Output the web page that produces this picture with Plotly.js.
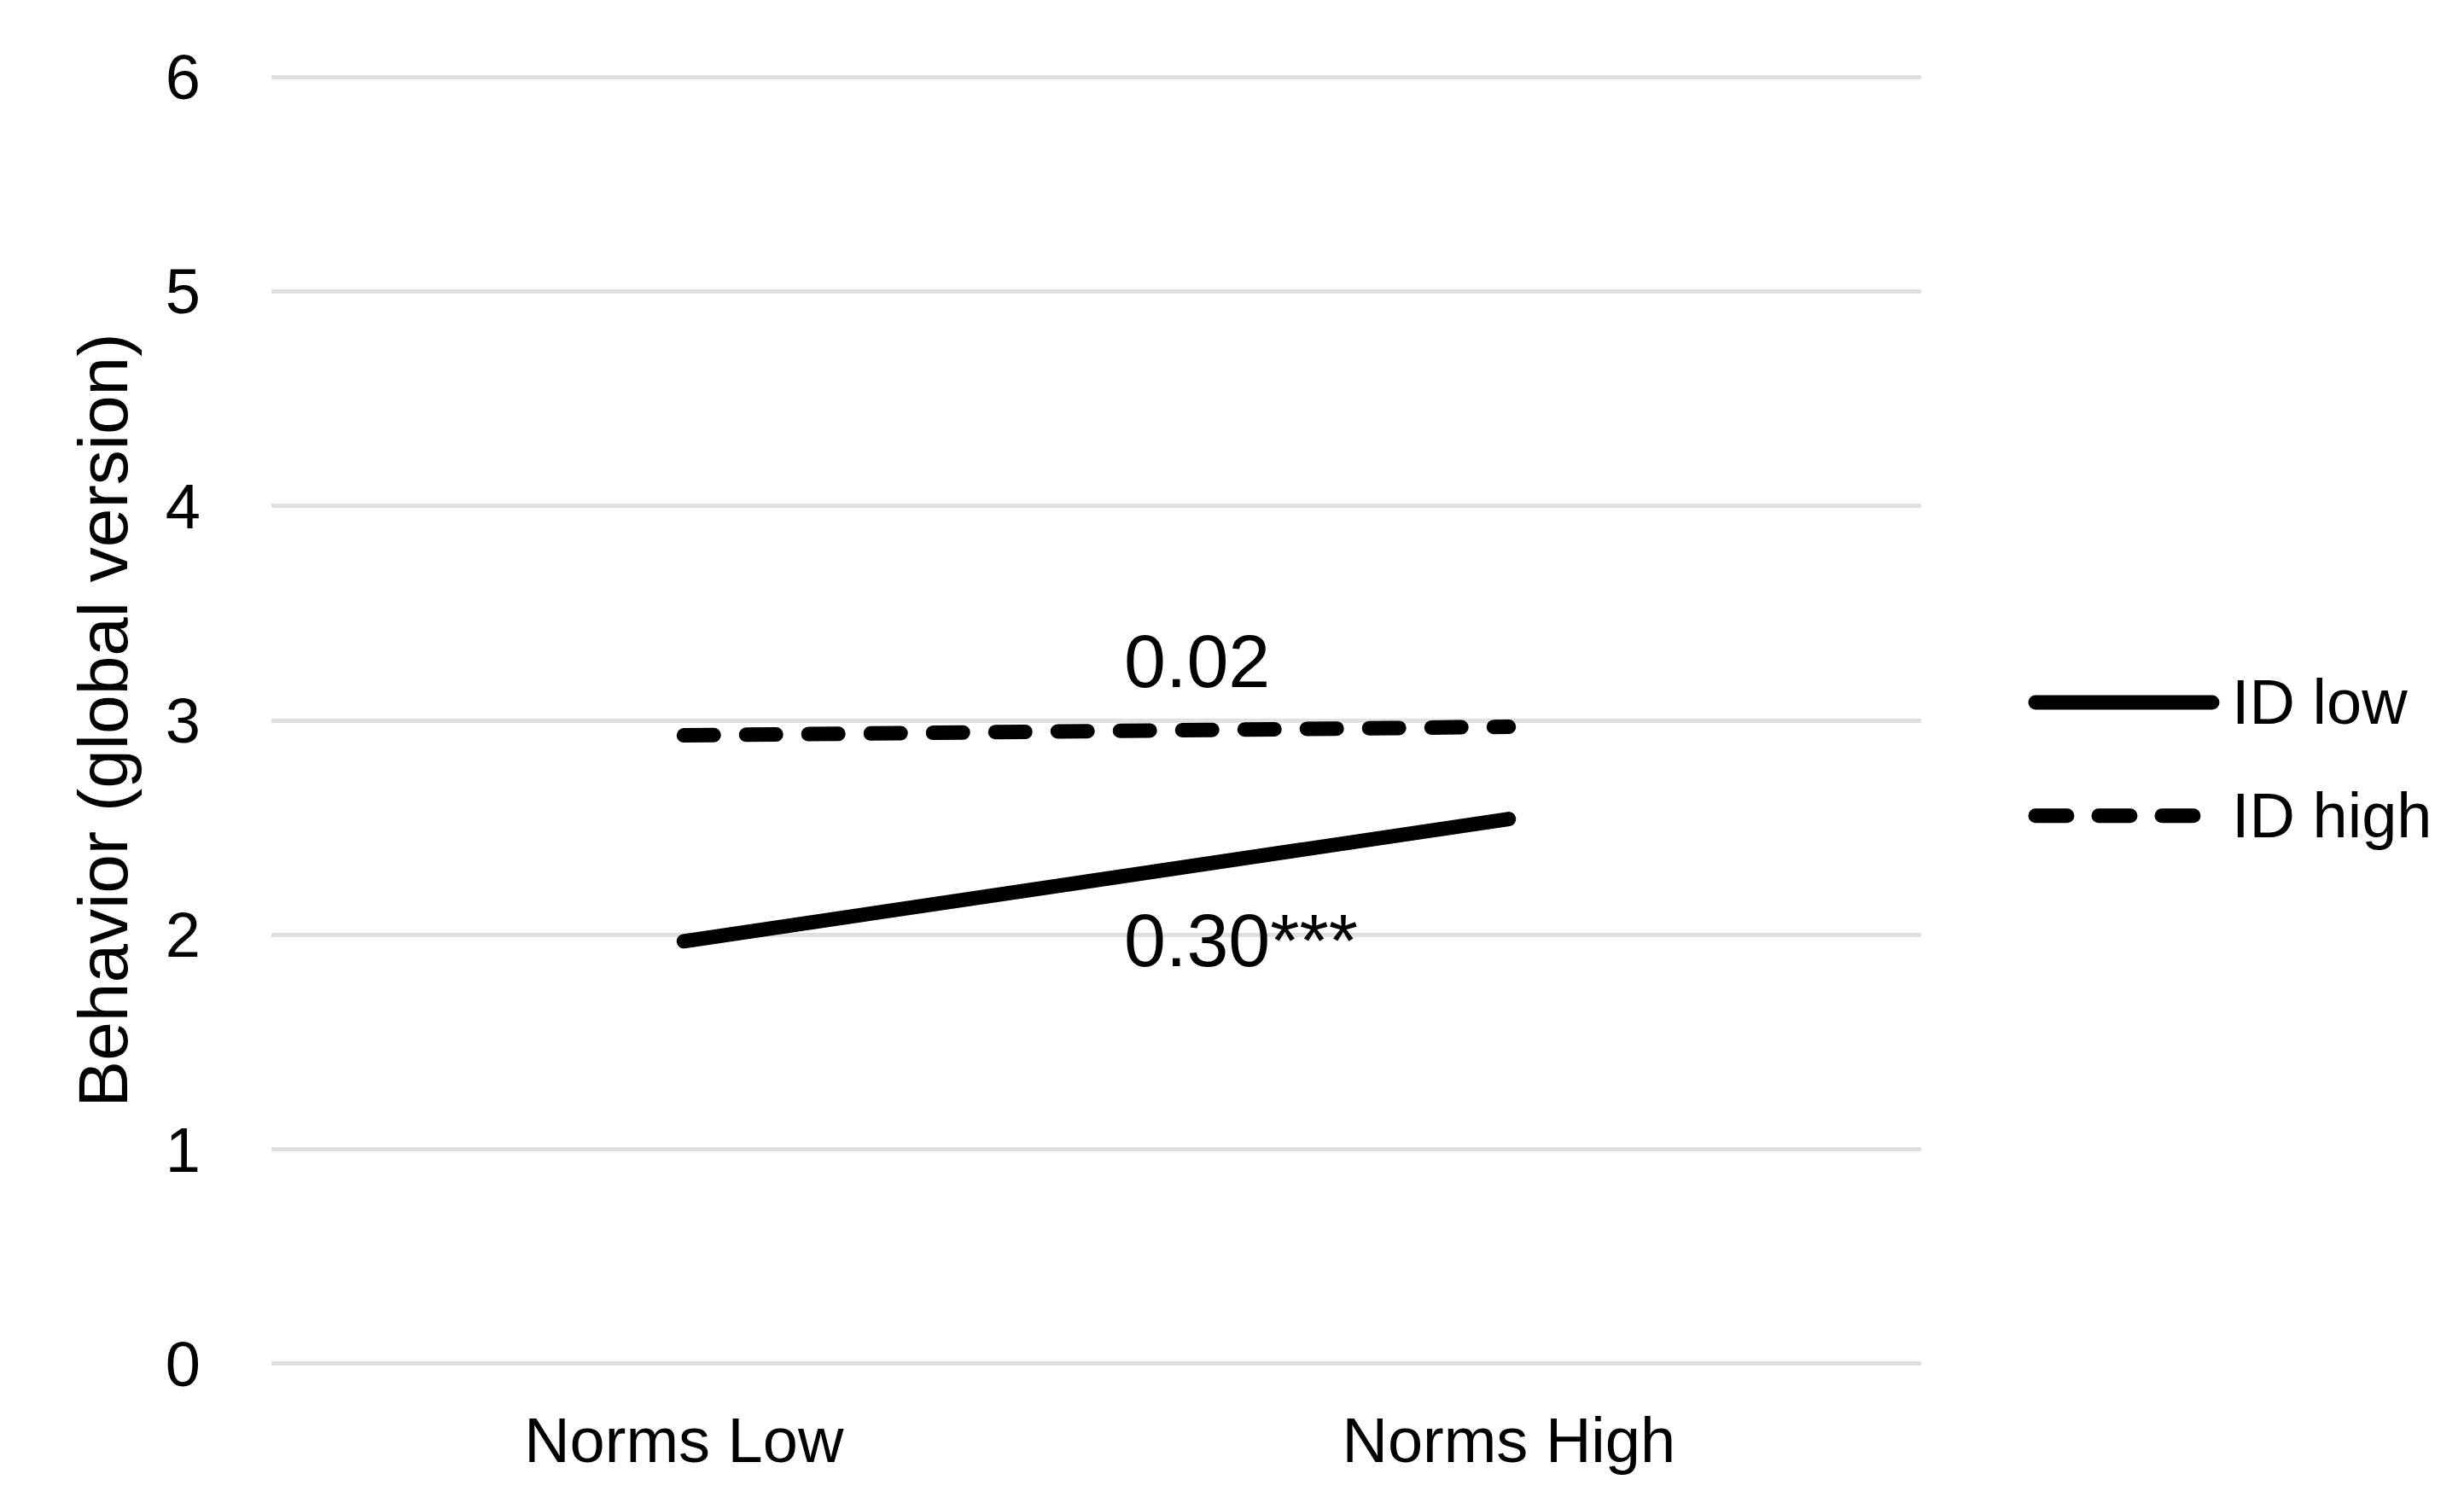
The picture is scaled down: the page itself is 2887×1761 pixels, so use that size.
<!DOCTYPE html>
<html>
<head>
<meta charset="utf-8">
<script src="https://cdn.plot.ly/plotly-3.0.1.min.js"></script>
<style>
html, body { margin: 0; padding: 0; background: #fff; }
#chart { width: 2887px; height: 1761px; }
.scatterlayer path.js-line { stroke-linecap: round; }
.shapelayer path { stroke-linecap: round; }
</style>
</head>
<body>
<div id="chart"></div>
<script>
// Data
const categories = ["Norms Low", "Norms High"];
const seriesNames = ["ID low", "ID high"];
const idLow = [1.97, 2.54];
const idHigh = [2.93, 2.97];
const slopeLabels = ["0.30***", "0.02"];
const yTicks = [0, 1, 2, 3, 4, 5, 6];

const FONT = "Arial, 'Liberation Sans', sans-serif";

const traces = [
  {
    x: categories, y: idLow, name: seriesNames[0], type: "scatter", mode: "lines",
    line: { color: "#000", width: 17 }, showlegend: false, hoverinfo: "skip"
  },
  {
    x: categories, y: idHigh, name: seriesNames[1], type: "scatter", mode: "lines",
    line: { color: "#000", width: 17, dash: "35px,38px" }, showlegend: false, hoverinfo: "skip"
  }
];

const layout = {
  width: 2887, height: 1761,
  paper_bgcolor: "#fff", plot_bgcolor: "#fff",
  margin: { l: 318, r: 636, t: 85, b: 158 },
  font: { family: FONT, color: "#000", size: 74 },
  showlegend: false,
  xaxis: {
    type: "category", range: [-0.5, 1.5],
    showgrid: false, zeroline: false, showline: false, ticks: "",
    tickfont: { size: 74, family: FONT, color: "#000" },
    ticklabelstandoff: 35
  },
  yaxis: {
    range: [-0.02, 6.02], tickvals: yTicks, ticktext: yTicks.map(String),
    showgrid: true, gridcolor: "#e0e0e0", gridwidth: 5,
    zeroline: false, showline: false, ticks: "",
    tickfont: { size: 74, family: FONT, color: "#000" },
    ticklabelstandoff: 82,
    title: { text: "Behavior (global version)", font: { size: 82, family: FONT, color: "#000" }, standoff: 17 },
    automargin: false
  },
  annotations: [
    { xref: "paper", yref: "y", x: 0.5158, y: 3.275, text: slopeLabels[1], showarrow: false,
      xanchor: "left", yanchor: "middle", font: { size: 88, family: FONT, color: "#000" } },
    { xref: "paper", yref: "y", x: 0.5158, y: 1.974, text: slopeLabels[0], showarrow: false,
      xanchor: "left", yanchor: "middle", font: { size: 88, family: FONT, color: "#000" } },
    { xref: "paper", yref: "paper", x: 1.1873, y: 0.5139, text: seriesNames[0], showarrow: false,
      xanchor: "left", yanchor: "middle", font: { size: 74, family: FONT, color: "#000" } },
    { xref: "paper", yref: "paper", x: 1.1873, y: 0.4264, text: seriesNames[1], showarrow: false,
      xanchor: "left", yanchor: "middle", font: { size: 74, family: FONT, color: "#000" } }
  ],
  shapes: [
    { type: "line", xref: "paper", yref: "paper", x0: 1.0693, x1: 1.1764, y0: 0.5139, y1: 0.5139,
      line: { color: "#000", width: 17 } },
    { type: "line", xref: "paper", yref: "paper", x0: 1.0693, x1: 1.1700, y0: 0.4264, y1: 0.4264,
      line: { color: "#000", width: 17, dash: "37px,37px" } }
  ]
};

Plotly.newPlot("chart", traces, layout, { staticPlot: true, displayModeBar: false });
</script>
</body>
</html>
